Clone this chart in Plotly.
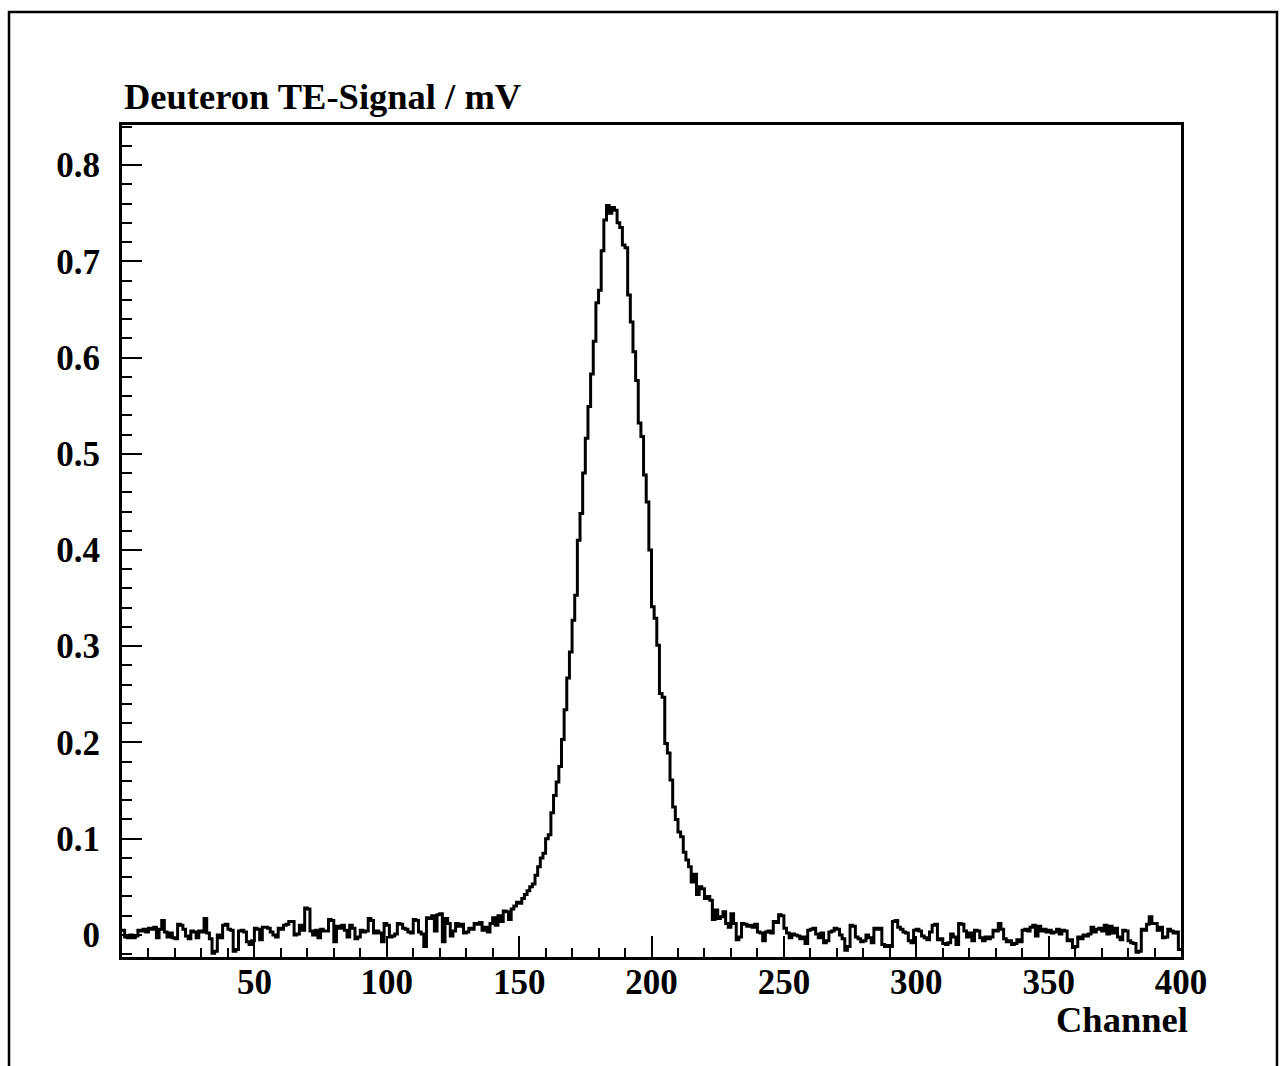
import plotly.graph_objects as go

# ---- data: TE signal per channel (bins 1..400) ----
signal_mV = [
    # 1-10
    0.005, -0.002, -0.003, 0.000, -0.003, -0.001, 0.005, 0.004, 0.006, 0.003,
    # 11-20
    0.007, 0.006, 0.008, -0.003, 0.006, 0.015, 0.003, -0.002, 0.002, -0.003,
    # 21-30
    -0.004, 0.011, 0.010, 0.006, -0.001, -0.004, 0.004, 0.003, -0.003, 0.004,
    # 31-40
    0.003, 0.017, 0.002, -0.004, -0.019, -0.017, 0.000, -0.003, 0.010, 0.011,
    # 41-50
    0.006, 0.005, -0.017, -0.015, 0.004, 0.005, 0.003, -0.007, -0.010, -0.006,
    # 51-60
    0.007, 0.006, -0.005, 0.008, 0.008, 0.007, 0.003, 0.000, -0.002, 0.007,
    # 61-70
    0.006, 0.010, 0.011, 0.014, 0.014, 0.000, 0.001, 0.010, 0.005, 0.028,
    # 71-80
    0.027, 0.004, 0.000, 0.005, -0.003, 0.006, 0.004, 0.004, 0.016, 0.015,
    # 81-90
    -0.007, 0.009, 0.007, 0.010, 0.005, -0.002, 0.010, 0.007, -0.004, -0.002,
    # 91-100
    0.005, 0.003, 0.004, 0.017, 0.015, 0.002, 0.004, 0.002, -0.007, 0.012,
    # 101-110
    0.010, -0.002, -0.001, 0.001, 0.012, 0.011, 0.007, 0.006, 0.003, 0.002,
    # 111-120
    0.016, 0.015, 0.003, 0.001, -0.012, 0.018, 0.017, 0.020, 0.004, 0.021,
    # 121-130
    0.022, -0.007, 0.017, 0.012, -0.001, 0.004, 0.012, 0.009, 0.011, 0.002,
    # 131-140
    0.003, 0.007, 0.006, 0.012, 0.011, 0.013, 0.005, 0.008, 0.003, 0.012,
    # 141-150
    0.018, 0.010, 0.020, 0.014, 0.025, 0.024, 0.016, 0.027, 0.030, 0.034,
    # 151-160
    0.033, 0.038, 0.042, 0.046, 0.050, 0.053, 0.062, 0.071, 0.080, 0.085,
    # 161-170
    0.100, 0.104, 0.127, 0.145, 0.159, 0.175, 0.203, 0.234, 0.267, 0.294,
    # 171-180
    0.327, 0.353, 0.410, 0.438, 0.480, 0.516, 0.549, 0.583, 0.617, 0.657,
    # 181-190
    0.670, 0.711, 0.743, 0.758, 0.750, 0.756, 0.753, 0.740, 0.735, 0.717,
    # 191-200
    0.714, 0.665, 0.637, 0.606, 0.576, 0.532, 0.518, 0.478, 0.450, 0.400,
    # 201-210
    0.341, 0.329, 0.301, 0.251, 0.247, 0.199, 0.189, 0.161, 0.133, 0.120,
    # 211-220
    0.107, 0.102, 0.086, 0.078, 0.071, 0.055, 0.063, 0.042, 0.050, 0.048,
    # 221-230
    0.038, 0.040, 0.036, 0.016, 0.026, 0.017, 0.019, 0.024, 0.012, 0.008,
    # 231-240
    0.022, 0.012, -0.005, -0.002, 0.012, 0.011, 0.009, 0.010, 0.008, 0.011,
    # 241-250
    0.003, 0.002, -0.006, 0.003, 0.004, 0.002, 0.014, 0.013, 0.021, 0.020,
    # 251-260
    0.007, 0.002, -0.003, 0.001, 0.000, -0.001, -0.004, -0.002, -0.009, 0.005,
    # 261-270
    0.006, 0.007, 0.001, -0.003, 0.002, -0.008, -0.006, 0.003, 0.004, 0.007,
    # 271-280
    0.006, 0.000, -0.004, -0.016, -0.012, 0.010, 0.009, -0.002, -0.004, -0.007,
    # 281-290
    -0.006, 0.000, -0.003, -0.008, 0.007, 0.006, 0.007, -0.010, -0.012, -0.011,
    # 291-300
    -0.012, 0.014, 0.015, 0.008, 0.006, 0.003, 0.002, -0.006, -0.008, 0.005,
    # 301-310
    0.006, 0.004, -0.001, -0.003, -0.005, 0.003, 0.010, 0.011, -0.005, -0.004,
    # 311-320
    -0.009, -0.010, -0.008, 0.001, -0.002, -0.010, 0.012, 0.011, 0.004, -0.002,
    # 321-330
    0.002, -0.006, 0.005, 0.004, -0.003, -0.006, -0.002, -0.004, -0.002, 0.005,
    # 331-340
    0.004, 0.012, 0.006, -0.004, -0.007, -0.006, -0.010, -0.009, -0.005, -0.007,
    # 341-350
    0.005, 0.006, 0.004, 0.008, 0.010, -0.001, 0.009, 0.004, 0.006, 0.003,
    # 351-360
    0.005, 0.002, 0.003, 0.006, 0.001, 0.005, 0.004, -0.006, -0.005, -0.013,
    # 361-370
    -0.012, -0.002, -0.004, 0.000, -0.001, 0.001, 0.008, 0.003, 0.006, 0.007,
    # 371-380
    0.004, 0.010, 0.001, 0.009, 0.002, 0.007, -0.002, -0.005, 0.005, 0.004,
    # 381-390
    -0.006, -0.008, -0.009, -0.018, -0.017, 0.006, 0.005, 0.011, 0.019, 0.012,
    # 391-400
    0.012, 0.005, 0.008, -0.003, -0.002, 0.006, 0.004, 0.002, 0.003, -0.015,
]
channels = list(range(1, len(signal_mV) + 1))
assert len(signal_mV) == 400

x_ticks = [50, 100, 150, 200, 250, 300, 350, 400]
x_tick_labels = ["50", "100", "150", "200", "250", "300", "350", "400"]
y_ticks = [0, 0.1, 0.2, 0.3, 0.4, 0.5, 0.6, 0.7, 0.8]
y_tick_labels = ["0", "0.1", "0.2", "0.3", "0.4", "0.5", "0.6", "0.7", "0.8"]

title_text = "Deuteron TE-Signal / mV"
x_title = "Channel"

# ---- step (histogram) drawing: bin edges from channel numbers ----
edges = [c - 1 for c in channels] + [channels[-1]]
step_y = signal_mV + [signal_mV[-1]]

FONT = "Liberation Serif, Times New Roman, serif"
W, H = 1286, 1066
L, R, T, B = 122, 1181, 125, 957

fig = go.Figure()
fig.add_trace(go.Scatter(
    x=edges, y=step_y, mode="lines", line=dict(color="black", width=3, shape="hv"),
    showlegend=False, hoverinfo="skip",
))

fig.update_layout(
    width=W, height=H,
    margin=dict(l=L, r=W - R, t=T, b=H - B, pad=0),
    paper_bgcolor="white", plot_bgcolor="white",
    font=dict(family=FONT, size=35, color="black", weight="bold"),
)

fig.update_xaxes(
    range=[0, 400], tickmode="array", tickvals=x_ticks, ticktext=x_tick_labels,
    ticks="inside", ticklen=21, tickwidth=1.5, tickcolor="black",
    minor=dict(ticks="inside", ticklen=9, tickwidth=1.5, tickcolor="black", dtick=10, tick0=0, showgrid=False),
    showline=True, linewidth=3, linecolor="black", mirror=True,
    showgrid=False, zeroline=False,
    tickfont=dict(family=FONT, size=35, color="black", weight="bold"),
    ticklabelstandoff=-8,
)
fig.update_yaxes(
    range=[-0.0229, 0.8416], tickmode="array", tickvals=y_ticks, ticktext=y_tick_labels,
    ticks="inside", ticklen=20, tickwidth=1.5, tickcolor="black",
    minor=dict(ticks="inside", ticklen=10, tickwidth=1.5, tickcolor="black", dtick=0.02, tick0=0, showgrid=False),
    showline=True, linewidth=3, linecolor="black", mirror=True,
    showgrid=False, zeroline=False,
    tickfont=dict(family=FONT, size=35, color="black", weight="bold"),
    ticklabelstandoff=12,
)

pw, ph = R - L, B - T
def px(xp):
    return (xp - L) / pw
def py(yp):
    return (B - yp) / ph

fig.add_annotation(
    text=title_text, xref="paper", yref="paper", x=0, y=py(97),
    xanchor="left", yanchor="middle", showarrow=False,
    font=dict(family=FONT, size=36.5, color="black", weight="bold"),
)
fig.add_annotation(
    text=x_title, xref="paper", yref="paper", x=px(1190), y=py(1020),
    xanchor="right", yanchor="middle", showarrow=False,
    font=dict(family=FONT, size=36.5, color="black", weight="bold"),
)

# outer canvas border
fig.add_shape(
    type="rect", xref="paper", yref="paper",
    x0=px(9), x1=px(1277), y0=py(1090), y1=py(12),
    line=dict(color="black", width=2.5), fillcolor="rgba(0,0,0,0)", layer="above",
)

fig.write_html(
    "out.html",
    config={"displayModeBar": False},
    post_script="document.body.style.margin='0';",
)
